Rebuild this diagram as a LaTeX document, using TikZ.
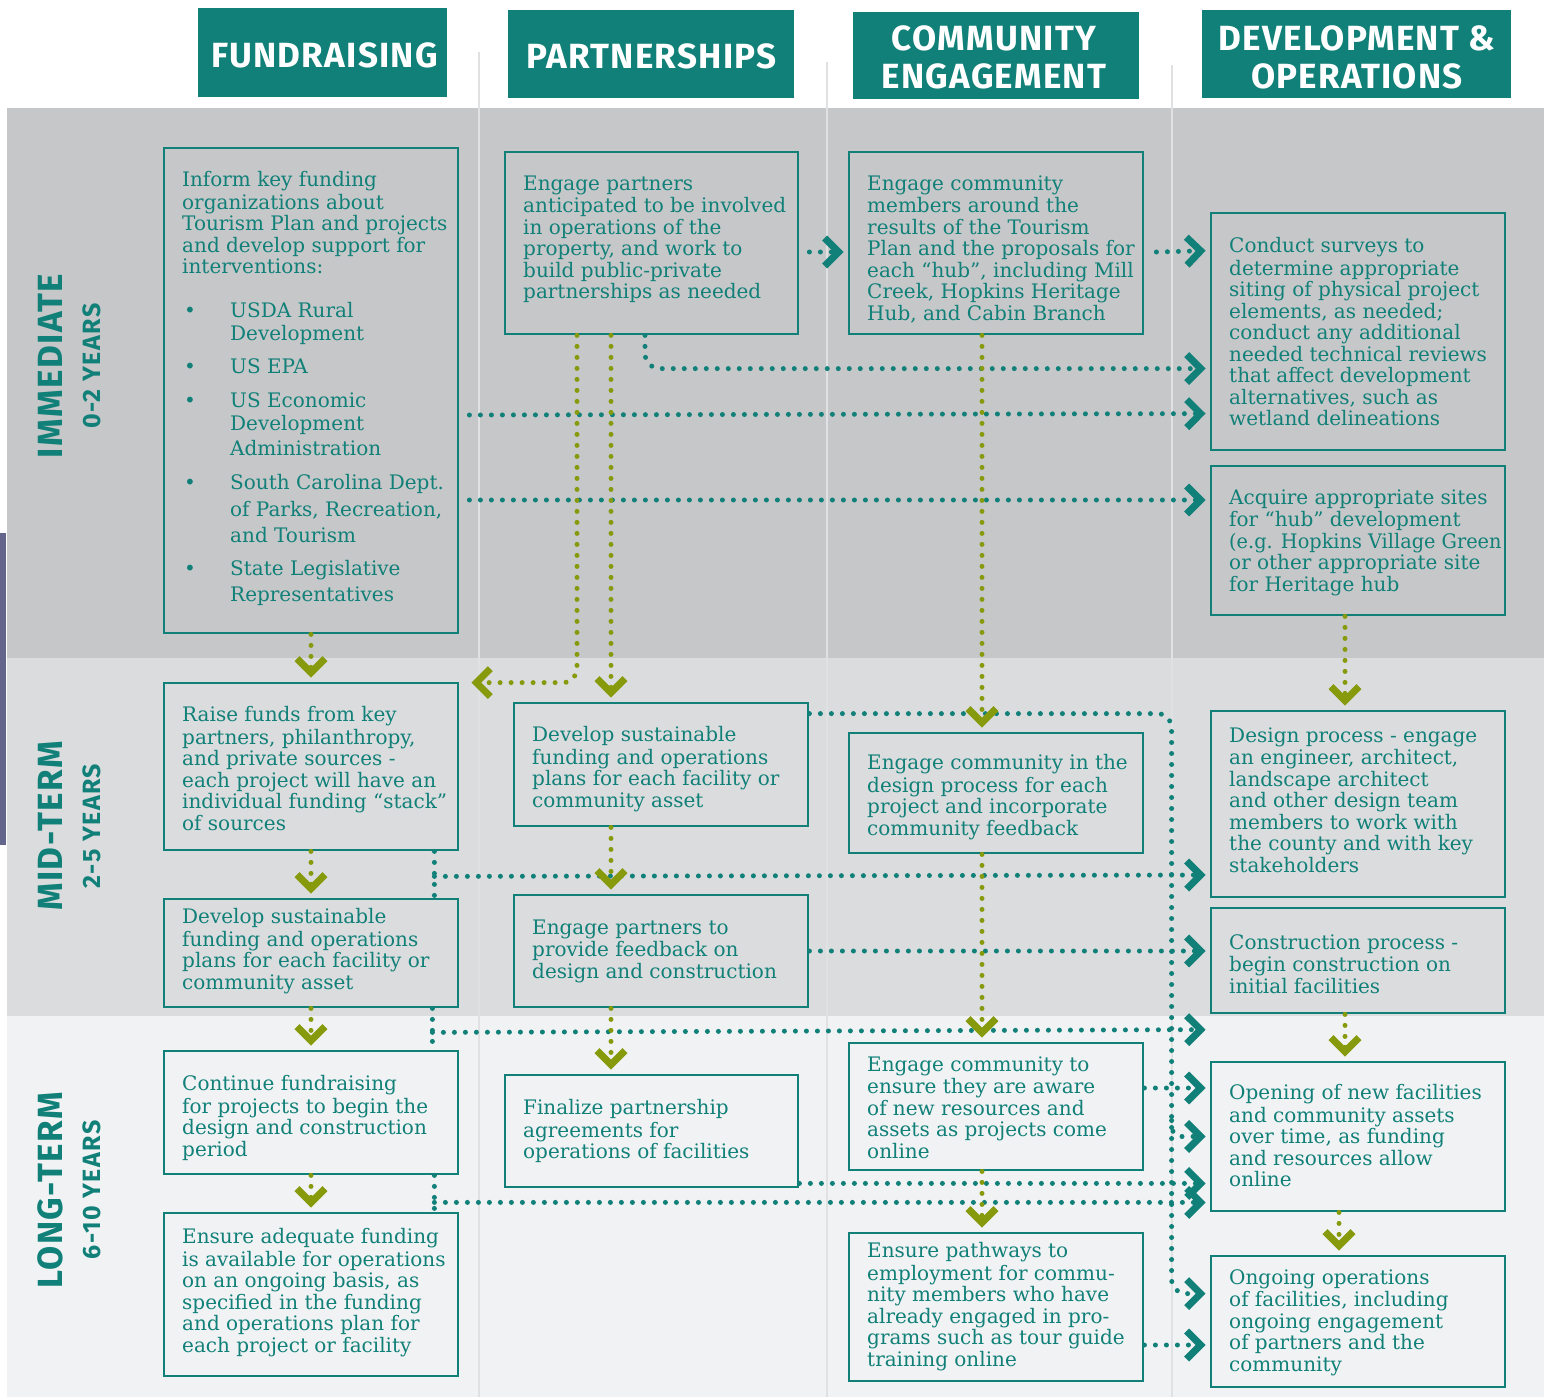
\documentclass[tikz,border=0pt]{standalone}
\usepackage{fontspec}
\setmainfont{DejaVu Serif}
\newfontfamily\headfont{Fira Sans}[LetterSpace=3.5]
\newfontfamily\sidefont{Fira Sans}[LetterSpace=4]
\newfontfamily\yearfont{Fira Sans}[LetterSpace=6]
\usetikzlibrary{arrows.meta,calc}
\definecolor{tealc}{RGB}{16,128,120}
\definecolor{olivec}{RGB}{134,154,12}
\definecolor{bandA}{RGB}{198,199,201}
\definecolor{bandB}{RGB}{219,220,222}
\definecolor{bandC}{RGB}{241,242,244}
\definecolor{sepc}{RGB}{224,225,227}
\definecolor{stripc}{RGB}{99,101,140}
\newcommand{\bx}[4]{\node[txt] (#1) at (#2,#3) {\strut #4};}
\begin{document}
\begin{tikzpicture}[x=1pt,y=-1pt,
  box/.style={draw=tealc, line width=2.8pt, inner sep=0pt, minimum width=294pt},
  txt/.style={text=tealc, inner sep=0pt, align=left, anchor=north west, font=\fontsize{20}{21.5}\selectfont},
  hdr/.style={fill=tealc, text=white, inner sep=0pt, align=center, font=\headfont\bfseries\fontsize{35}{38}\selectfont},
  side/.style={text=tealc, rotate=90, inner sep=0pt, font=\sidefont\bfseries\fontsize{35}{37}\selectfont},
  yrs/.style={text=tealc, rotate=90, inner sep=0pt, font=\yearfont\bfseries\fontsize{25}{27}\selectfont},
  dots/.style={line width=5pt, line cap=round, dash pattern=on 0pt off 11pt},
  tdot/.style={dots, draw=tealc},
  tarr/.style={dots, draw=tealc, shorten >=4pt, -{Straight Barb[length=14pt,width=28pt,line width=7pt]}},
  oarr/.style={dots, draw=olivec, shorten >=4pt, -{Straight Barb[length=14pt,width=28pt,line width=7pt]}},
]
\useasboundingbox (0,0) rectangle (1544,1397);
% bands
\fill[bandA] (7,108) rectangle (1544,658);
\fill[bandB] (7,658) rectangle (1544,1016);
\fill[bandC] (7,1016) rectangle (1544,1397);
\fill[stripc] (0,533) rectangle (6,845);
\draw[sepc, line width=2.5pt] (479,52) -- (479,1397);
\draw[sepc, line width=2.5pt] (827,62) -- (827,1397);
\draw[sepc, line width=2.5pt] (1172,65) -- (1172,1397);
% headers
\node[hdr, minimum width=249pt, minimum height=89pt] (H1) at (322.5,52.5) {};
\node[text=white, font=\headfont\bfseries\fontsize{35}{38}\selectfont, inner sep=0pt] (H1t) at (324.5,55.5) {FUNDRAISING};
\node[hdr, minimum width=286pt, minimum height=88pt] (H2) at (651,54) {};
\node[text=white, font=\headfont\bfseries\fontsize{35}{38}\selectfont, inner sep=0pt] (H2t) at (651.5,56.5) {PARTNERSHIPS};
\node[hdr, minimum width=286pt, minimum height=87pt] (H3) at (996,55.5) {};
\node[text=white, align=center, font=\headfont\bfseries\fontsize{35}{38}\selectfont, inner sep=0pt] (H3t) at (994,57.5) {COMMUNITY\\ENGAGEMENT};
\node[hdr, minimum width=309pt, minimum height=88pt] (H4) at (1356.5,54) {};
\node[text=white, align=center, font=\headfont\bfseries\fontsize{35}{38}\selectfont, inner sep=0pt] (H4t) at (1357,57) {DEVELOPMENT \&\\OPERATIONS};
% side labels
\node[side] (L1) at (50,366) {IMMEDIATE};
\node[yrs] (Y1) at (92,366) {0-2 YEARS};
\node[side] (L2) at (50,826) {MID-TERM};
\node[yrs] (Y2) at (92,826) {2-5 YEARS};
\node[side] (L3) at (50,1190) {LONG-TERM};
\node[yrs] (Y3) at (92,1190) {6-10 YEARS};
% boxes
\node[box, minimum height=485pt] (F1) at (311,390.5) {};
\node[box, minimum height=167pt] (F2) at (311,766.5) {};
\node[box, minimum height=108pt] (F3) at (311,953) {};
\node[box, minimum height=123pt] (F4) at (311,1112.5) {};
\node[box, minimum height=163pt] (F5) at (311,1294.5) {};
\node[box, minimum width=293pt, minimum height=182pt] (P1) at (651.5,243) {};
\node[box, minimum height=123pt] (P2) at (661,764.5) {};
\node[box, minimum height=112pt] (P3) at (661,951) {};
\node[box, minimum width=293pt, minimum height=112pt] (P4) at (651.5,1131) {};
\node[box, minimum height=182pt] (C1) at (996,243) {};
\node[box, minimum height=120pt] (C2) at (996,793) {};
\node[box, minimum height=127pt] (C3) at (996,1106.5) {};
\node[box, minimum height=148pt] (C4) at (996,1307) {};
\node[box, minimum height=237pt] (D1) at (1358,331.5) {};
\node[box, minimum height=149pt] (D2) at (1358,540.5) {};
\node[box, minimum height=186pt] (D3) at (1358,804) {};
\node[box, minimum height=105pt] (D4) at (1358,960.5) {};
\node[box, minimum height=149pt] (D5) at (1358,1136.5) {};
\node[box, minimum height=131pt] (D6) at (1358,1321.5) {};
% texts
\bx{tF1}{182}{171}{Inform key funding\\organizations about\\Tourism Plan and projects\\and develop support for\\interventions:}
\bx{bu1}{184}{302}{•}
\bx{tb1}{230}{302}{USDA Rural\\Development}
\bx{bu2}{184}{358}{•}
\bx{tb2}{230}{358}{US EPA}
\bx{bu3}{184}{392}{•}
\bx{tb3}{230}{392}{US Economic\\[0.5pt]Development\\[3.5pt]Administration}
\bx{bu4}{184}{474}{•}
\bx{tb4}{230}{474}{South Carolina Dept.\\[4.5pt]of Parks, Recreation,\\[4.5pt]and Tourism}
\bx{bu5}{184}{560}{•}
\bx{tb5}{230}{560}{State Legislative\\[4.5pt]Representatives}
\bx{tF2}{182}{706}{Raise funds from key\\partners, philanthropy,\\and private sources -\\each project will have an\\individual funding “stack”\\of sources}
\bx{tF3}{182}{908}{Develop sustainable\\funding and operations\\plans for each facility or\\community asset}
\bx{tF4}{182}{1075}{Continue fundraising\\for projects to begin the\\design and construction\\period}
\bx{tF5}{182}{1228}{Ensure adequate funding\\is available for operations\\on an ongoing basis, as\\specified in the funding\\and operations plan for\\each project or facility}
\bx{tP1}{523}{175}{Engage partners\\anticipated to be involved\\in operations of the\\property, and work to\\build public-private\\partnerships as needed}
\bx{tP2}{532}{726}{Develop sustainable\\funding and operations\\plans for each facility or\\community asset}
\bx{tP3}{532}{919}{Engage partners to\\provide feedback on\\design and construction}
\bx{tP4}{523}{1099}{Finalize partnership\\agreements for\\operations of facilities}
\bx{tC1}{867}{175}{Engage community\\members around the\\results of the Tourism\\Plan and the proposals for\\each “hub”, including Mill\\Creek, Hopkins Heritage\\Hub, and Cabin Branch}
\bx{tC2}{867}{754}{Engage community in the\\design process for each\\project and incorporate\\community feedback}
\bx{tC3}{867}{1056}{Engage community to\\ensure they are aware\\of new resources and\\assets as projects come\\online}
\bx{tC4}{867}{1242}{Ensure pathways to\\employment for commu-\\nity members who have\\already engaged in pro-\\grams such as tour guide\\training online}
\bx{tD1}{1229}{237}{Conduct surveys to\\determine appropriate\\siting of physical project\\elements, as needed;\\conduct any additional\\needed technical reviews\\that affect development\\alternatives, such as\\wetland delineations}
\bx{tD2}{1229}{489}{Acquire appropriate sites\\for “hub” development\\\scalebox{0.965}[1]{(e.g. Hopkins Village Green}\\or other appropriate site\\for Heritage hub}
\bx{tD3}{1229}{727}{Design process - engage\\an engineer, architect,\\landscape architect\\and other design team\\members to work with\\the county and with key\\stakeholders}
\bx{tD4}{1229}{934}{Construction process -\\begin construction on\\initial facilities}
\bx{tD5}{1229}{1084}{Opening of new facilities\\and community assets\\over time, as funding\\and resources allow\\online}
\bx{tD6}{1229}{1269}{Ongoing operations\\of facilities, including\\ongoing engagement\\of partners and the\\community}
% teal connectors
\draw[tarr] ($(P1.east)+(10,9)$) -- ($(C1.west)+(0,9)$);
\draw[tarr] ($(C1.east)+(12,9)$) -- ($(D1.north west)+(0,39)$);
\draw[tarr, rounded corners=15pt] ($(P1.south)+(-6.5,0)$) |- ($(D1.north west)+(0,157)$);
\draw[tarr] ($(F1.east)+(10,24.5)$) -- ($(D1.north west)+(0,202)$);
\draw[tarr] ($(F1.east)+(10,109.5)$) -- ($(D2.west)+(0,-40.5)$);
\draw[tarr, rounded corners=14pt] ($(P2.north east)+(0,12)$) -| ($(D6.north west)+(-38,39)$) -- ($(D6.north west)+(0,39)$);
\draw[tarr, rounded corners=10pt] ($(D5.west)+(-38,-16)$) |- (D5.west);
\draw[tdot] ($(F2.south east)+(-25,0)$) -- ($(F3.north east)+(-25,0)$);
\draw[tarr] ($(F2.south east)+(-25,25)$) -- ($(D3.west)+(0,71)$);
\draw[tdot] ($(F3.south east)+(-27,0)$) -- ($(F4.north east)+(-27,0)$);
\draw[tarr] ($(F3.south east)+(-27,24)$) -- ($(D5.north west)+(0,-31)$);
\draw[tdot] ($(F4.south east)+(-25,0)$) -- ($(F5.north east)+(-25,0)$);
\draw[tarr] ($(F4.south east)+(-25,27)$) -- ($(D5.south west)+(0,-10)$);
\draw[tarr] (P3.east) -- ($(D4.west)+(0,-9.5)$);
\draw[tarr] ($(C3.east)+(0,-18.5)$) -- ($(D5.west)+(0,-48.5)$);
\draw[tarr] ($(P4.south east)+(0,-5)$) -- ($(D5.south west)+(0,-29)$);
\draw[tarr] ($(C4.east)+(0,38)$) -- ($(D6.west)+(0,23.5)$);
% olive connectors
\draw[oarr] (F1.south) -- (F2.north);
\draw[oarr] (F2.south) -- (F3.north);
\draw[oarr] (F3.south) -- (F4.north);
\draw[oarr] (F4.south) -- (F5.north);
\draw[oarr, rounded corners=14pt] ($(P1.south)+(-74.5,0)$) |- ($(F2.north east)+(8,1)$);
\draw[oarr] ($(P1.south)+(-40.5,0)$) -- ($(P2.north)+(-50,0)$);
\draw[oarr] ($(P2.south)+(-50,0)$) -- ($(P3.north)+(-50,0)$);
\draw[oarr] ($(P3.south)+(-50,0)$) -- ($(P4.north)+(-40.5,0)$);
\draw[oarr] ($(C1.south)+(-14,0)$) -- ($(C2.north)+(-14,0)$);
\draw[oarr] ($(C2.south)+(-14,0)$) -- ($(C3.north)+(-14,0)$);
\draw[oarr] ($(C3.south)+(-14,0)$) -- ($(C4.north)+(-14,0)$);
\draw[oarr] ($(D2.south)+(-13,0)$) -- ($(D3.north)+(-13,0)$);
\draw[oarr] ($(D4.south)+(-13,0)$) -- ($(D5.north)+(-13,0)$);
\draw[oarr] ($(D5.south)+(-19,0)$) -- ($(D6.north)+(-19,0)$);
\end{tikzpicture}
\end{document}
